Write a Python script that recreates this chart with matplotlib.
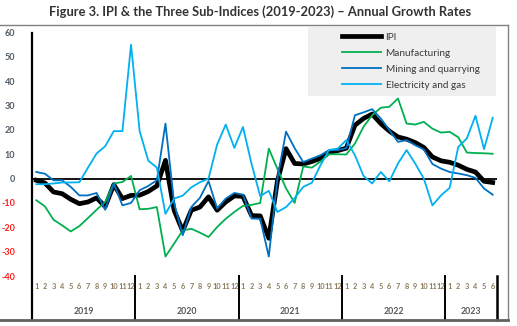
import matplotlib
matplotlib.use("Agg")
import matplotlib.pyplot as plt
from matplotlib.lines import Line2D
from matplotlib.patches import Rectangle
import numpy as np

years = ["2019", "2020", "2021", "2022", "2023"]
months_per_year = [12, 12, 12, 12, 6]

ipi = [-0.7, -1.8, -5.5, -6.2, -8.5, -10.3, -9.6, -7.9, -11.5, -2.5, -8.2, -6.9,
       -6.8, -5.3, -3.0, 7.5, -13.0, -21.5, -13.0, -11.7, -7.5, -13.0, -9.6, -7.1,
       -7.3, -15.2, -15.3, -24.5, -1.0, 12.3, 6.2, 6.0, 7.0, 8.3, 10.8, 11.5,
       12.5, 21.9, 24.7, 26.5, 22.6, 19.5, 17.1, 16.2, 14.8, 12.8, 8.9, 7.3,
       6.7, 5.5, 3.8, 2.7, -1.1, -1.6]
manufacturing = [-8.9, -11.4, -16.9, -19.2, -21.7, -19.5, -16.2, -12.8, -9.6, -2.0, -1.4, 1.1,
                 -12.6, -12.4, -11.7, -32.0, -26.7, -21.3, -20.6, -22.2, -24.0, -19.9, -16.5, -13.7,
                 -11.2, -10.8, -10.0, 12.3, 4.0, -4.0, -10.0, 5.0, 4.5, 7.0, 10.0, 10.0,
                 9.9, 14.4, 21.3, 26.0, 29.1, 29.5, 32.9, 22.6, 22.2, 23.3, 20.5, 18.9,
                 19.2, 17.0, 10.7, 10.5, 10.4, 10.2]
mining = [2.7, 2.0, -0.7, -0.7, -3.4, -6.9, -6.9, -5.9, -12.8, -2.0, -11.0, -10.0,
          -4.8, -3.0, -0.7, 22.6, -10.0, -23.3, -11.7, -7.9, -1.0, -12.3, -8.2, -5.9,
          -6.6, -16.4, -16.5, -32.0, 0.0, 19.3, 12.5, 6.8, 8.2, 9.6, 11.7, 11.7,
          12.5, 26.0, 27.2, 28.5, 24.7, 19.9, 15.1, 15.8, 13.7, 12.0, 6.0, 4.1,
          2.7, 2.1, 1.4, 0.3, -4.1, -6.6]
electricity = [-2.3, -2.3, -2.0, -1.6, -1.6, -1.5, 4.5, 10.3, 13.3, 19.5, 19.5, 55.0,
               19.5, 7.4, 4.5, -14.5, -8.2, -7.0, -3.6, -1.5, 0.0, 14.0, 22.2, 12.6,
               21.2, 6.0, -7.2, -5.0, -13.7, -11.7, -8.0, -3.4, -1.7, 5.5, 11.8, 12.3,
               15.8, 9.6, 1.1, -2.0, 2.7, -1.1, 6.2, 11.7, 6.2, 0.0, -11.0, -6.9,
               -3.8, 13.0, 16.5, 25.8, 12.1, 25.0]

series_names = ["IPI", "Manufacturing", "Mining and quarrying", "Electricity and gas"]
series_colors = ["#000000", "#00B050", "#0070C0", "#00B0F0"]
series_widths = [3.4, 1.3, 1.3, 1.3]
yticks = [-40, -30, -20, -10, 0, 10, 20, 30, 40, 50, 60]

plt.rcParams["font.family"] = ["Lato", "DejaVu Sans"]

W, H = 517, 326
fig = plt.figure(figsize=(W / 100, H / 100), dpi=100)

def fx(px):
    return px / W

def fy(py):
    return 1 - py / H

ppu = 2.435
ymax = 60
ymin = ymax - (320 - 32.5) / ppu
ax = fig.add_axes([fx(32), fy(320), fx(497) - fx(32), fy(32.5) - fy(320)])
n = sum(months_per_year)
x = np.arange(n)
ax.set_xlim(-0.5, n - 0.5)
ax.set_ylim(ymin, ymax)

for vals, c, lw, name in zip([ipi, manufacturing, mining, electricity],
                             series_colors, series_widths, series_names):
    ax.plot(x, vals, color=c, lw=lw, label=name, zorder=3)

ax.axhline(0, color="black", lw=1.3, zorder=2)

for s in ["top", "right", "bottom"]:
    ax.spines[s].set_visible(False)
ax.spines["left"].set_linewidth(1.6)
ax.spines["left"].set_color("black")

ax.set_xticks([])
ax.set_yticks(yticks)
ax.set_yticklabels([str(t) for t in yticks])
ax.tick_params(axis="y", length=0, pad=12, labelsize=6.5)
for lab, t in zip(ax.get_yticklabels(), yticks):
    lab.set_fontweight("bold")
    lab.set_color("#FF2020" if t < 0 else "#4F5B66")

month_y = -44.3
year_y = -54.5
start = 0
for yr, m in zip(years, months_per_year):
    for k in range(m):
        ax.text(start + k, month_y, str(k + 1), ha="center", va="center",
                fontsize=5.3, fontweight="bold", color="#8C7B5C")
    ax.text(start + (m - 1) / 2, year_y, yr, ha="center", va="center",
            fontsize=6.3, fontweight="bold", color="#595959")
    end = start + m - 0.5
    ax.plot([end, end], [-40, ymin], color="black", lw=1.4 if end < n - 1 else 1.8,
            clip_on=False)
    start += m

fig.add_artist(Line2D([fx(0), fx(508)], [fy(25), fy(25)], color="#808080", lw=1.0))
fig.add_artist(Line2D([fx(508), fx(508)], [fy(25), fy(320)], color="#808080", lw=1.0))
fig.add_artist(Line2D([fx(0), fx(508)], [fy(320), fy(320)], color="#606060", lw=2.0))

ax.add_patch(Rectangle((fx(308), fy(96)), fx(496) - fx(308), fy(27) - fy(96),
                       transform=fig.transFigure, facecolor="#EFEFEF",
                       edgecolor="none", zorder=1, clip_on=False))
leg = ax.legend(loc="upper left", bbox_to_anchor=(fx(340), fy(30.5)),
                bbox_transform=fig.transFigure, frameon=False, fontsize=7.2,
                handlelength=3.9, handletextpad=0.45, labelspacing=0.7,
                borderpad=0.2, borderaxespad=0)
for t in leg.get_texts():
    t.set_color("#3A3A3A")
leg.set_zorder(5)

fig.text(fx(260), fy(12), "Figure 3. IPI & the Three Sub-Indices (2019-2023) \u2013 Annual Growth Rates",
         ha="center", va="center", fontsize=9.3, fontweight="bold", color="#333333")

fig.savefig("out.png", dpi=100)
